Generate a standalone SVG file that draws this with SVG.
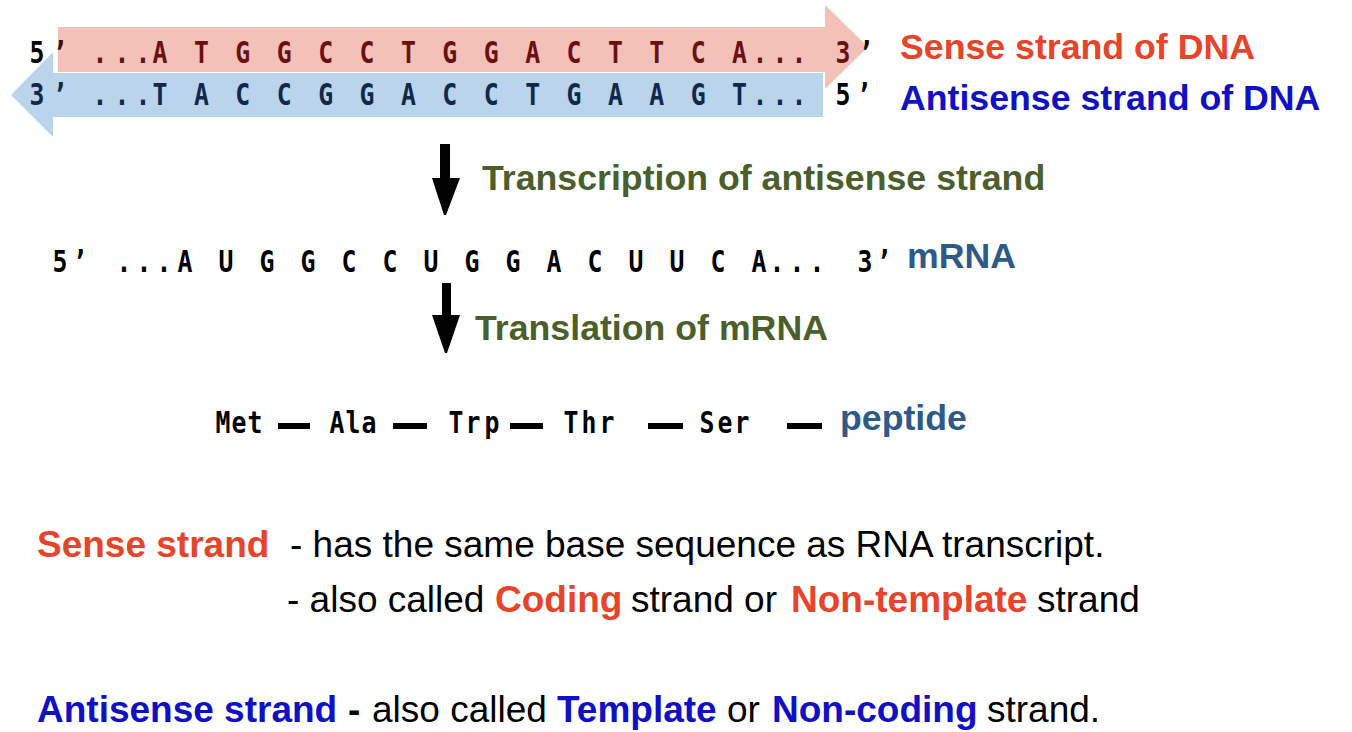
<svg xmlns="http://www.w3.org/2000/svg" width="1352" height="732" viewBox="0 0 1352 732">
<style>
.mono{font-family:"DejaVu Sans Mono","Liberation Mono",monospace;font-weight:bold;font-size:31px;text-anchor:middle}
.lbl{font-family:"Liberation Sans",Arial,sans-serif;font-weight:bold;font-size:35.7px}
.body{font-family:"Liberation Sans",Arial,sans-serif;font-size:37px;fill:#000}
.b{font-weight:bold}
.red{fill:#e8432b}
.blue{fill:#1010c4}
.green{fill:#4b5f2d}
.steel{fill:#2e5a8a}
.pink{fill:#f4c1b9}
.sky{fill:#b9d4eb}
</style>
<rect width="1352" height="732" fill="#fff"/>

<g id="sense-strand">
  <rect class="pink" x="58" y="27" width="768" height="45"/>
  <polygon class="pink" points="825,5 868,47 825,89"/>
</g>
<g id="antisense-strand">
  <rect class="sky" x="53" y="73" width="770" height="44"/>
  <polygon class="sky" points="53,52 11,95 53,137"/>
</g>
<g id="sense-text">
  <text class="mono" transform="scale(0.8,1)" x="46.25" y="63" fill="#000">5</text>
  <text class="mono" transform="scale(0.8,1)" x="75" y="63" fill="#3a0a0a">’</text>
  <text class="mono" transform="scale(0.8,1)" fill="#6a1010" y="63" x="125 152.5 178.75 200 251.75 303.5 355.25 407 458.75 510.5 562.25 614 665.75 717.5 769.25 821 872.75 924.5 950 975 998.75 1053.75">...ATGGCCTGGACTTCA...3</text>
  <text class="mono" transform="scale(0.8,1)" x="1082.5" y="63" fill="#000">’</text>
</g>
<g id="antisense-text">
  <text class="mono" transform="scale(0.8,1)" fill="#10294a" y="105" x="46.25 75 125 152.5 178.75 200 251.75 303.5 355.25 407 458.75 510.5 562.25 614 665.75 717.5 769.25 821 872.75 924.5 950 975 998.75">3’...TACCGGACCTGAAGT...</text>
  <text class="mono" transform="scale(0.8,1)" fill="#000" y="105" x="1053.75 1080">5’</text>
</g>
<g id="sense-label"><text class="lbl red" x="900" y="59">Sense strand of DNA</text></g>
<g id="antisense-label"><text class="lbl blue" x="900" y="110">Antisense strand of DNA</text></g>

<g id="connectors">
  <polygon points="440,144 450,144 450,178 460,178 446,215 444,215 432,178 440,178" fill="#000"/>
  <polygon points="442,283 451,283 451,315 460,315 447,353 445,353 432,315 442,315" fill="#000"/>
</g>
<g id="transcription-label"><text class="lbl green" x="482" y="190">Transcription of antisense strand</text></g>
<g id="translation-label"><text class="lbl green" x="475" y="340">Translation of mRNA</text></g>

<g id="mrna">
  <text class="mono" transform="scale(0.8,1)" fill="#000" y="272" x="75 100 155 180 205 231.25 282.5 333.75 385 436.25 487.5 538.75 590 641.25 692.5 743.75 795 846.25 897.5 948.75 971.25 996.25 1021.25 1081.25 1105">5’...AUGGCCUGGACUUCA...3’</text>
  <text class="lbl steel" x="907" y="268">mRNA</text>
</g>

<g id="peptide">
  <text class="mono" transform="scale(0.8,1)" fill="#000" y="433" x="278.75 298.75 318.75">Met</text>
  <text class="mono" transform="scale(0.8,1)" fill="#000" y="433" x="421.25 441.25 461.25">Ala</text>
  <text class="mono" transform="scale(0.8,1)" fill="#000" y="433" x="570 591.25 615">Trp</text>
  <text class="mono" transform="scale(0.8,1)" fill="#000" y="433" x="713.75 736.25 758.75">Thr</text>
  <text class="mono" transform="scale(0.8,1)" fill="#000" y="433" x="883.75 906.25 927.5">Ser</text>
  <rect x="278" y="423" width="32" height="6" fill="#000"/>
  <rect x="393" y="423" width="34" height="6" fill="#000"/>
  <rect x="510" y="423" width="33" height="6" fill="#000"/>
  <rect x="648" y="423" width="35" height="6" fill="#000"/>
  <rect x="787" y="423" width="35" height="6" fill="#000"/>
  <text class="lbl steel" x="840" y="430">peptide</text>
</g>

<g id="note-sense">
  <text class="body b red" x="37" y="557">Sense strand</text>
  <text class="body" x="290" y="557">- has the same base sequence as RNA transcript.</text>
  <text class="body" x="287" y="612">- also called</text>
  <text class="body b red" x="495" y="612">Coding</text>
  <text class="body" x="631" y="612">strand or</text>
  <text class="body b red" x="791" y="612">Non-template</text>
  <text class="body" x="1037" y="612">strand</text>
</g>
<g id="note-antisense">
  <text class="body b blue" x="37" y="722">Antisense strand</text>
  <text class="body b" x="348" y="722">-</text>
  <text class="body" x="372" y="722">also called</text>
  <text class="body b blue" x="557" y="722">Template</text>
  <text class="body" x="727" y="722">or</text>
  <text class="body b blue" x="772" y="722">Non-coding</text>
  <text class="body" x="987" y="722">strand.</text>
</g>
</svg>
